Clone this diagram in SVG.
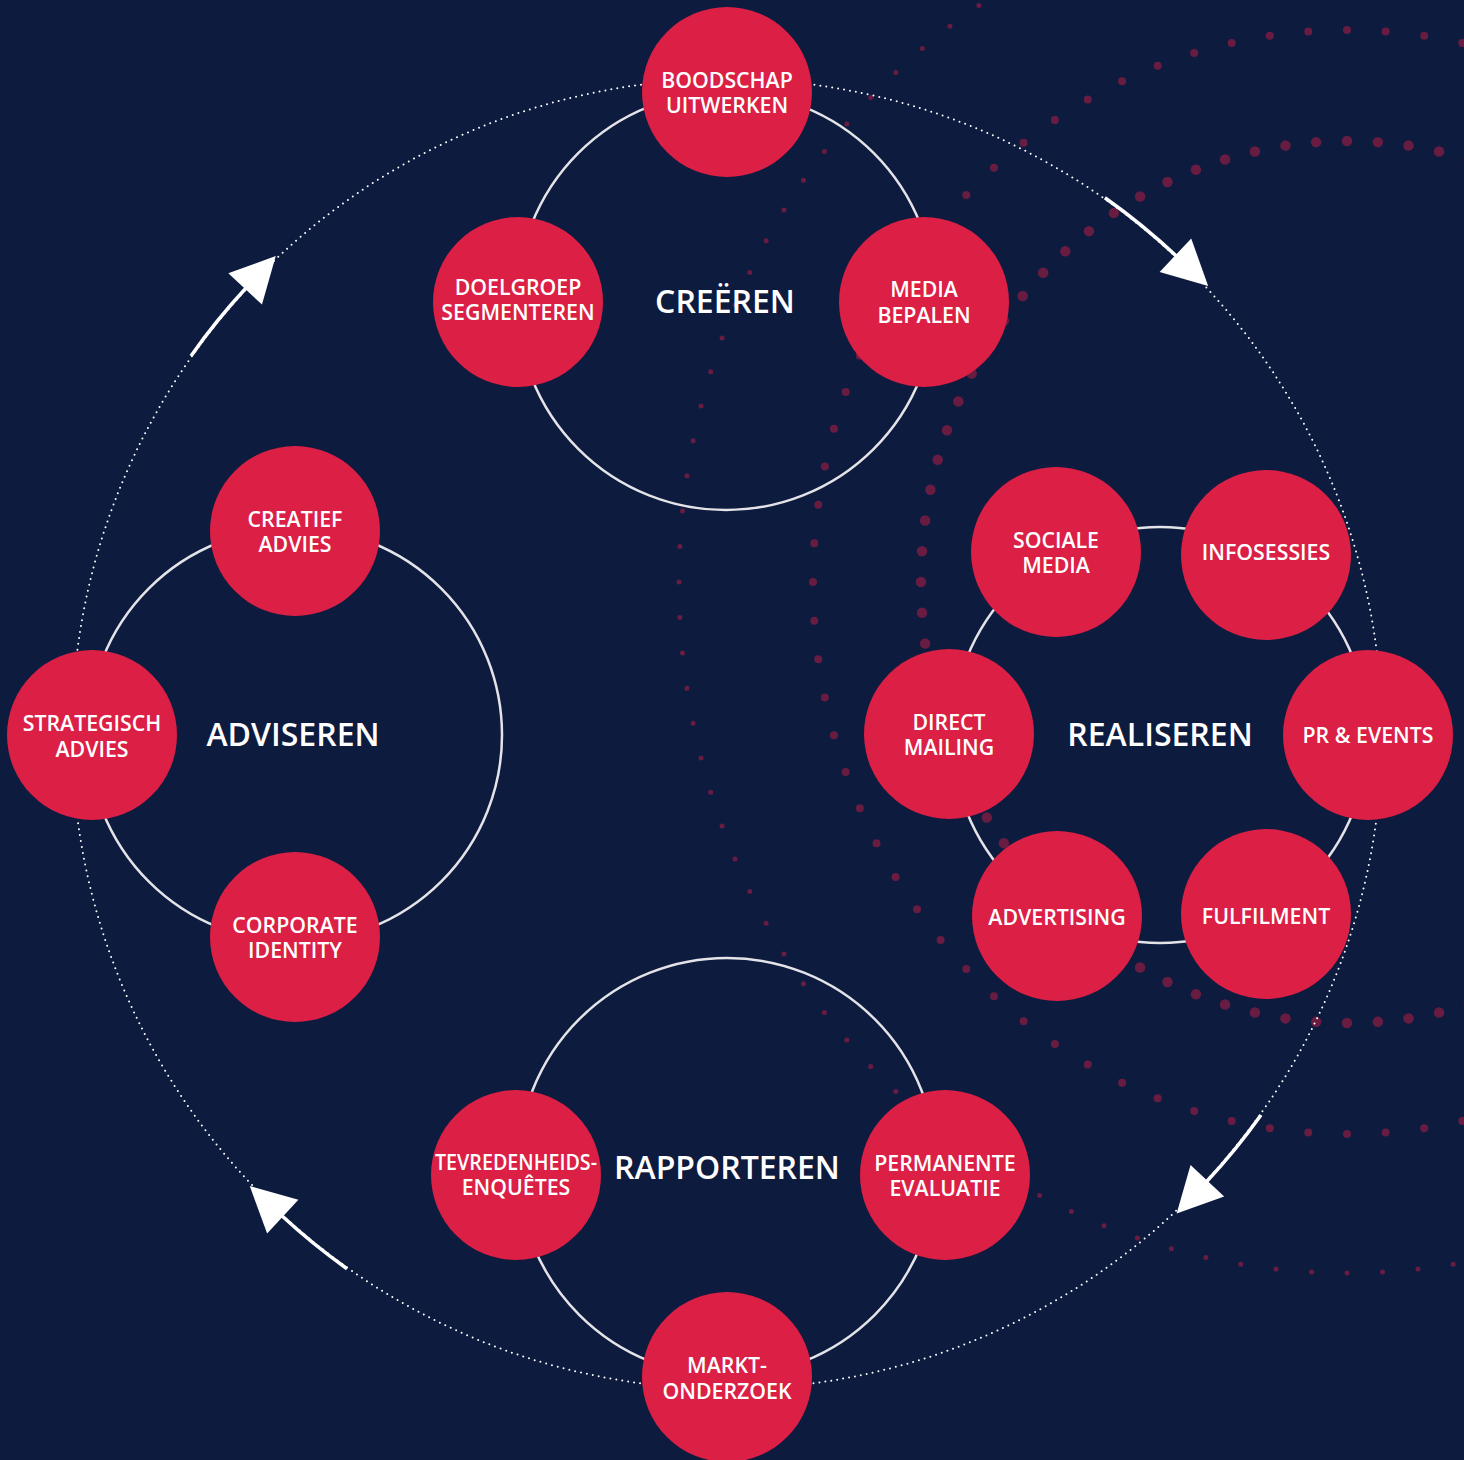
<svg xmlns="http://www.w3.org/2000/svg" width="1464" height="1460" viewBox="0 0 1464 1460">
<style>
.bg{fill:#0d1b3f}
.dots{fill:none;stroke:#d81f45;stroke-opacity:0.45;stroke-linecap:round}
.big{fill:none;stroke:#ffffff;stroke-width:2;stroke-linecap:round;stroke-dasharray:0 6}
.ring{fill:none;stroke:#e4e4e8;stroke-width:2.5}
.arrow{fill:none;stroke:#ffffff;stroke-width:3.5;marker-end:url(#ah)}
.node circle{fill:#db1f45}
.node text,.lbl{fill:#ffffff;font-family:"Open Sans","Liberation Sans",sans-serif;text-anchor:middle;font-weight:600}
.node text{font-size:21.3px}
.lbl{font-size:32px}
</style>
<defs>
<marker id="ah" markerUnits="userSpaceOnUse" viewBox="0 -25 50 50" markerWidth="50" markerHeight="50" refX="2" refY="0" orient="auto" overflow="visible">
<path d="M0,-23 L45,0 L0,23 Z" fill="#ffffff"/>
</marker>
</defs>
<rect class="bg" x="0" y="0" width="1464" height="1460"/>
<g id="decoration">
<ellipse class="dots" cx="1347" cy="582" rx="426" ry="441" pathLength="88" stroke-dasharray="0 1" stroke-width="10.5"/>
<ellipse class="dots" cx="1347" cy="582" rx="534" ry="552" pathLength="88" stroke-dasharray="0 1" stroke-width="8"/>
<ellipse class="dots" cx="1347" cy="582" rx="668" ry="691" pathLength="120" stroke-dasharray="0 1" stroke-width="5"/>
</g>
<circle class="big" cx="727" cy="734" r="655"/>
<g id="connectors">
<path class="arrow" d="M1104.9,197.7 A656,656 0 0 1 1176.9,256.6"/>
<path class="arrow" d="M1261,1114.9 A656,656 0 0 1 1206,1182.2"/>
<path class="arrow" d="M347,1268.7 A656,656 0 0 1 281.3,1215.3"/>
<path class="arrow" d="M191,355.9 A656,656 0 0 1 246.5,287.5"/>
</g>
<g id="rings">
<circle class="ring" cx="726" cy="301" r="209"/>
<circle class="ring" cx="295" cy="735" r="207"/>
<circle class="ring" cx="1160" cy="735" r="208"/>
<circle class="ring" cx="727" cy="1167" r="209"/>
</g>
<g id="labels">
<text class="lbl" x="725" y="313">CREËREN</text>
<text class="lbl" x="293" y="746">ADVISEREN</text>
<text class="lbl" x="1160" y="746">REALISEREN</text>
<text class="lbl" x="727" y="1179">RAPPORTEREN</text>
</g>
<g id="n-boodschap" class="node"><circle cx="727" cy="92" r="85"/><text x="727" y="88">BOODSCHAP</text><text x="727" y="113">UITWERKEN</text></g>
<g id="n-doelgroep" class="node"><circle cx="518" cy="302" r="85"/><text x="518" y="295">DOELGROEP</text><text x="518" y="320">SEGMENTEREN</text></g>
<g id="n-media" class="node"><circle cx="924" cy="302" r="85"/><text x="924" y="297">MEDIA</text><text x="924" y="323">BEPALEN</text></g>
<g id="n-creatief" class="node"><circle cx="295" cy="531" r="85"/><text x="295" y="527">CREATIEF</text><text x="295" y="552">ADVIES</text></g>
<g id="n-strategisch" class="node"><circle cx="92" cy="735" r="85"/><text x="92" y="731">STRATEGISCH</text><text x="92" y="757">ADVIES</text></g>
<g id="n-corporate" class="node"><circle cx="295" cy="937" r="85"/><text x="295" y="933">CORPORATE</text><text x="295" y="958">IDENTITY</text></g>
<g id="n-sociale" class="node"><circle cx="1056" cy="552" r="85"/><text x="1056" y="548">SOCIALE</text><text x="1056" y="573">MEDIA</text></g>
<g id="n-infosessies" class="node"><circle cx="1266" cy="555" r="85"/><text x="1266" y="560">INFOSESSIES</text></g>
<g id="n-direct" class="node"><circle cx="949" cy="734" r="85"/><text x="949" y="730">DIRECT</text><text x="949" y="755">MAILING</text></g>
<g id="n-pr" class="node"><circle cx="1368" cy="735" r="85"/><text x="1368" y="743">PR &amp; EVENTS</text></g>
<g id="n-advertising" class="node"><circle cx="1057" cy="916" r="85"/><text x="1057" y="925">ADVERTISING</text></g>
<g id="n-fulfilment" class="node"><circle cx="1266" cy="914" r="85"/><text x="1266" y="924">FULFILMENT</text></g>
<g id="n-tevredenheid" class="node"><circle cx="516" cy="1175" r="85"/><text x="516" y="1170" textLength="162" lengthAdjust="spacingAndGlyphs">TEVREDENHEIDS-</text><text x="516" y="1195">ENQUÊTES</text></g>
<g id="n-permanente" class="node"><circle cx="945" cy="1175" r="85"/><text x="945" y="1171">PERMANENTE</text><text x="945" y="1196">EVALUATIE</text></g>
<g id="n-markt" class="node"><circle cx="727" cy="1377" r="85"/><text x="727" y="1373">MARKT-</text><text x="727" y="1399">ONDERZOEK</text></g>
</svg>
